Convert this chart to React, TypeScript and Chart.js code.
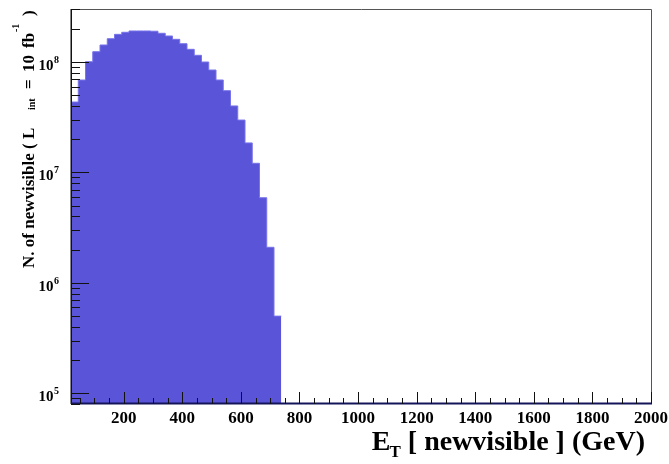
import { useEffect, useRef } from "react";
import { Chart, registerables } from "chart.js";

Chart.register(...registerables);

// ---- data ----
const binLow = 20;
const binWidth = 24.75;
const binCounts = [
  4.34e7, 6.87e7, 1.006e8, 1.24e8, 1.426e8, 1.626e8, 1.78e8, 1.858e8, 1.91e8, 1.91e8,
  1.91e8, 1.9e8, 1.82e8, 1.72e8, 1.605e8, 1.465e8, 1.303e8, 1.15e8, 1.0e8, 8.46e7,
  6.87e7, 5.5e7, 4.0e7, 2.98e7, 1.85e7, 1.21e7, 5.9e6, 2.1e6, 5.0e5,
];
const xTickValues = [200, 400, 600, 800, 1000, 1200, 1400, 1600, 1800, 2000];
const xMinorStep = 50;
const yDecades = [1e5, 1e6, 1e7, 1e8];
const xRange = [20, 2000];
const yRange = [8e4, 3.02e8];
const xTitleMain = "E";
const xTitleSub = "T";
const xTitleRest = "[ newvisible ] (GeV)";

const FILL = "rgb(89,84,216)";
const SERIF = '"Liberation Serif", "Times New Roman", serif';

const decor = {
  id: "rootDecor",
  afterDatasetsDraw(chart: any) {
    const { ctx, chartArea: a, scales } = chart;
    const xs = scales.x;
    const ys = scales.y;
    ctx.save();
    // frame top / right
    ctx.strokeStyle = "#555";
    ctx.lineWidth = 1;
    ctx.beginPath();
    ctx.moveTo(a.left, a.top + 0.5);
    ctx.lineTo(a.right + 0.5, a.top + 0.5);
    ctx.lineTo(a.right + 0.5, a.bottom);
    ctx.stroke();
    // left axis
    ctx.strokeStyle = "#111";
    ctx.lineWidth = 1.5;
    ctx.beginPath();
    ctx.moveTo(a.left + 0.25, a.top);
    ctx.lineTo(a.left + 0.25, a.bottom);
    ctx.stroke();
    // bottom axis
    ctx.strokeStyle = "#14145a";
    ctx.lineWidth = 2;
    ctx.beginPath();
    ctx.moveTo(a.left, a.bottom - 0.5);
    ctx.lineTo(a.right + 1, a.bottom - 0.5);
    ctx.stroke();

    // x ticks
    ctx.strokeStyle = "#111";
    ctx.lineWidth = 1;
    for (let v = Math.ceil(xRange[0] / xMinorStep) * xMinorStep; v <= xRange[1]; v += xMinorStep) {
      const px = Math.round(xs.getPixelForValue(v)) + 0.5;
      const major = xTickValues.includes(v);
      const len = major ? 12 : 6;
      ctx.beginPath();
      ctx.moveTo(px, a.bottom);
      ctx.lineTo(px, a.bottom - len);
      ctx.stroke();
    }
    // y ticks
    const lo = Math.floor(Math.log10(yRange[0]));
    const hi = Math.ceil(Math.log10(yRange[1]));
    for (let d = lo; d <= hi; d++) {
      for (let m = 1; m <= 9; m++) {
        const v = m * Math.pow(10, d);
        if (v < yRange[0] * 0.999 || v > yRange[1] * 1.001) continue;
        const py = Math.round(ys.getPixelForValue(v)) + 0.5;
        const len = m === 1 ? 18 : 9;
        ctx.beginPath();
        ctx.moveTo(a.left, py);
        ctx.lineTo(a.left + len, py);
        ctx.stroke();
      }
    }

    // y tick labels 10^n
    ctx.fillStyle = "#000";
    for (const d of yDecades) {
      const py = ys.getPixelForValue(d);
      const exp = String(Math.round(Math.log10(d)));
      ctx.font = `bold 15px ${SERIF}`;
      ctx.textAlign = "right";
      ctx.textBaseline = "alphabetic";
      ctx.fillText("10", a.left - 17.5, py + 7.7);
      ctx.font = `bold 10px ${SERIF}`;
      ctx.textAlign = "left";
      ctx.fillText(exp, a.left - 17, py + 0.7);
    }

    // y title (rotated)
    ctx.save();
    ctx.translate(33.5, 268);
    ctx.rotate(-Math.PI / 2);
    ctx.textAlign = "left";
    ctx.textBaseline = "alphabetic";
    ctx.font = `bold 17px ${SERIF}`;
    ctx.fillText("N. of newvisible ( L", 0, 0);
    ctx.font = `bold 10px ${SERIF}`;
    ctx.fillText("int", 158, 1);
    ctx.font = `bold 17px ${SERIF}`;
    ctx.fillText("=", 179, 0);
    ctx.fillText("10", 196, 0);
    ctx.fillText("fb", 220, 0);
    ctx.font = `bold 10px ${SERIF}`;
    ctx.fillText("-1", 236, -14.5);
    ctx.font = `bold 17px ${SERIF}`;
    ctx.fillText(")", 252, 0);
    ctx.restore();

    // x title
    ctx.textBaseline = "alphabetic";
    ctx.font = `bold 28px ${SERIF}`;
    ctx.textAlign = "right";
    const restRight = 645;
    ctx.fillText(xTitleRest, restRight, 450);
    const restW = ctx.measureText(xTitleRest).width;
    ctx.font = `bold 17px ${SERIF}`;
    const tW = ctx.measureText(xTitleSub).width;
    const tX = restRight - restW - 7 - tW;
    ctx.textAlign = "left";
    ctx.fillText(xTitleSub, tX, 457);
    ctx.font = `bold 28px ${SERIF}`;
    ctx.textAlign = "right";
    ctx.fillText(xTitleMain, tX + 1, 450);
    ctx.restore();
  },
};

export default function App() {
  const ref = useRef<HTMLCanvasElement | null>(null);
  useEffect(() => {
    if (!ref.current) return;
    const pts = binCounts.map((v, i) => ({ x: binLow + i * binWidth, y: v }));
    pts.push({ x: binLow + binCounts.length * binWidth, y: binCounts[binCounts.length - 1] });
    const chart = new Chart(ref.current, {
      type: "line",
      data: {
        datasets: [
          {
            data: pts,
            stepped: "before",
            fill: "start",
            backgroundColor: FILL,
            borderColor: "rgb(120,116,235)",
            borderWidth: 1,
            pointRadius: 0,
            tension: 0,
          },
        ],
      },
      options: {
        animation: false,
        responsive: false,
        devicePixelRatio: 1,
        layout: { padding: { top: 9, right: 18, left: 0, bottom: 0 } },
        plugins: { legend: { display: false }, tooltip: { enabled: false } },
        scales: {
          x: {
            type: "linear",
            min: xRange[0],
            max: xRange[1],
            grid: { display: false, drawTicks: false },
            border: { display: false },
            afterBuildTicks: (s: any) => {
              s.ticks = xTickValues.map((v) => ({ value: v }));
            },
            afterFit: (s: any) => {
              s.height = 60;
              s.paddingLeft = 0;
              s.paddingRight = 0;
            },
            ticks: {
              autoSkip: false,
              maxRotation: 0,
              padding: 4,
              color: "#000",
              font: { family: SERIF, size: 17, weight: "bold" },
              callback: (v: any) => String(v),
            },
          },
          y: {
            type: "logarithmic",
            min: yRange[0],
            max: yRange[1],
            grid: { display: false, drawTicks: false },
            border: { display: false },
            ticks: { display: false },
            afterFit: (s: any) => {
              s.width = 71;
            },
          },
        },
      },
      plugins: [decor],
    });
    return () => chart.destroy();
  }, []);
  return (
    <div style={{ position: "absolute", left: 0, top: 0, width: 669, height: 464, background: "#fff" }}>
      <canvas ref={ref} width={669} height={464} style={{ display: "block" }} />
    </div>
  );
}
